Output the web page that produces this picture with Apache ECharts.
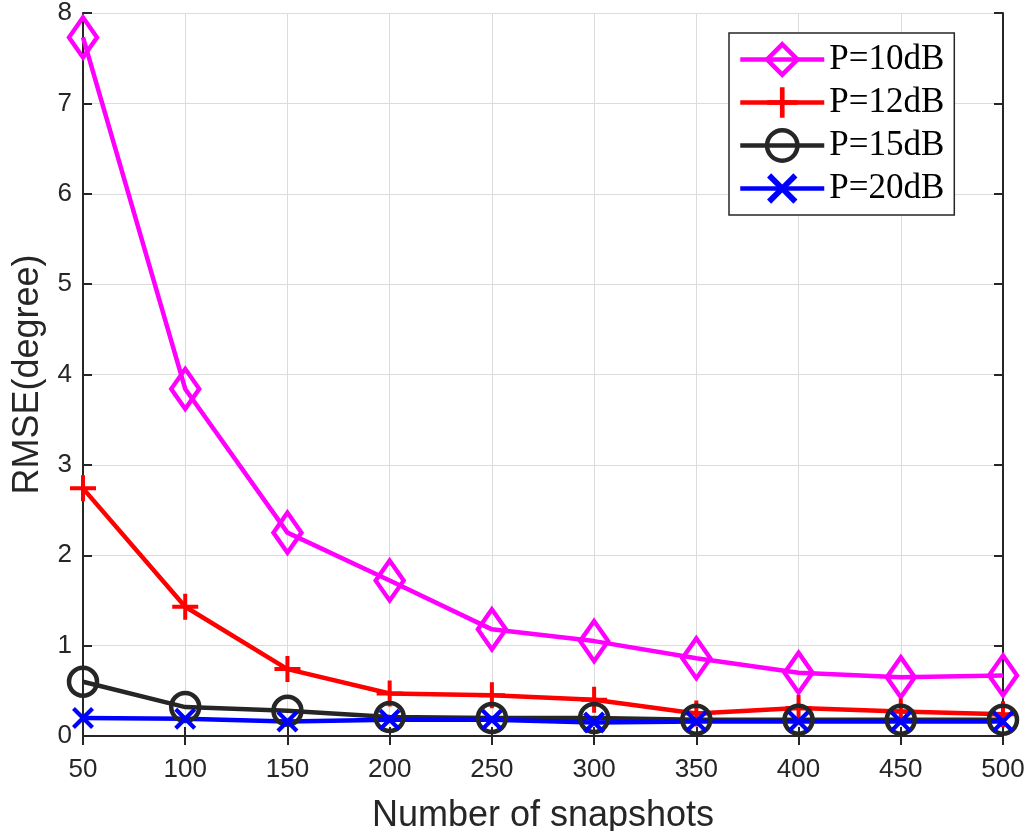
<!DOCTYPE html>
<html>
<head>
<meta charset="utf-8">
<script src="https://cdn.jsdelivr.net/npm/echarts@6/dist/echarts.min.js"></script>
<style>
  html, body { margin: 0; padding: 0; background: #fff; }
  #chart { width: 1026px; height: 831px; }
</style>
</head>
<body>
<div id="chart"></div>
<script>
// Number of snapshots
const snapshots = [50, 100, 150, 200, 250, 300, 350, 400, 450, 500];
// RMSE (degree) for each signal power
const rmseP10 = [7.73, 3.84, 2.25, 1.72, 1.18, 1.05, 0.86, 0.70, 0.65, 0.67];
const rmseP12 = [2.74, 1.43, 0.74, 0.47, 0.45, 0.40, 0.25, 0.31, 0.27, 0.24];
const rmseP15 = [0.60, 0.32, 0.28, 0.21, 0.20, 0.20, 0.18, 0.18, 0.18, 0.18];
const rmseP20 = [0.20, 0.19, 0.16, 0.18, 0.18, 0.15, 0.16, 0.16, 0.16, 0.16];
const seriesNames = ['P=10dB', 'P=12dB', 'P=15dB', 'P=20dB'];

const pairs = ys => snapshots.map((x, i) => [x, ys[i]]);

const axisColor = '#262626';
const sansFont = 'Liberation Sans, Arial, sans-serif';
const tickFont = { fontFamily: sansFont, fontSize: 26, color: axisColor };
const nameFont = { fontFamily: sansFont, fontSize: 36, color: axisColor };

const plusPath = 'path://M11,0 h4 v11 h11 v4 h-11 v11 h-4 v-11 h-11 v-4 h11 z';
const crossPath = 'path://M0,3.5 L3.5,0 L13,9.5 L22.5,0 L26,3.5 L16.5,13 L26,22.5 L22.5,26 L13,16.5 L3.5,26 L0,22.5 L9.5,13 Z';

function lineSeries(name, ys, color, symbol, size, hollow) {
  return {
    name: name,
    type: 'line',
    data: pairs(ys),
    symbol: symbol,
    symbolSize: size,
    showAllSymbol: true,
    color: color,
    lineStyle: { color: color, width: 4.5 },
    itemStyle: hollow
      ? { color: 'transparent', borderColor: color, borderWidth: 4.5 }
      : { color: color, borderWidth: 0 },
    emphasis: { disabled: true },
    animation: false
  };
}

const chart = echarts.init(document.getElementById('chart'), null, { renderer: 'canvas' });
chart.setOption({
  backgroundColor: '#ffffff',
  animation: false,
  grid: { left: 83, right: 23, top: 13, bottom: 95, containLabel: false, outerBoundsMode: 'none' },
  legend: {
    orient: 'vertical',
    left: 729,
    top: 33,
    padding: [9, 10, 9, 9],
    itemGap: 8,
    itemWidth: 84,
    itemHeight: 38,
    borderColor: axisColor,
    borderWidth: 1.5,
    backgroundColor: '#ffffff',
    lineStyle: { width: 4.5 },
    itemStyle: { borderWidth: 4.5 },
    textStyle: { fontFamily: 'Liberation Serif, Times New Roman, serif', fontSize: 35, color: '#000', padding: [0, 0, 0, 0] },
    data: seriesNames
  },
  xAxis: [
    {
      type: 'value', min: 50, max: 500, interval: 50,
      name: 'Number of snapshots', nameLocation: 'middle', nameGap: 62,
      nameTextStyle: nameFont,
      axisLine: { show: true, lineStyle: { color: axisColor, width: 2 } },
      axisTick: { show: true, inside: true, length: 9, lineStyle: { color: axisColor, width: 2 } },
      axisLabel: Object.assign({ margin: 21 }, tickFont),
      splitLine: { show: true, lineStyle: { color: '#dcdcdc', width: 1 } }
    },
    {
      type: 'value', min: 50, max: 500, interval: 50, position: 'top',
      axisLine: { show: true, lineStyle: { color: axisColor, width: 2 } },
      axisTick: { show: true, inside: true, length: 9, lineStyle: { color: axisColor, width: 2 } },
      axisLabel: { show: false },
      splitLine: { show: false }
    }
  ],
  yAxis: [
    {
      type: 'value', min: 0, max: 8, interval: 1,
      name: 'RMSE(degree)', nameLocation: 'middle', nameGap: 37,
      nameTextStyle: nameFont,
      axisLine: { show: true, lineStyle: { color: axisColor, width: 2 } },
      axisTick: { show: true, inside: true, length: 9, lineStyle: { color: axisColor, width: 2 } },
      axisLabel: Object.assign({ margin: 11 }, tickFont),
      splitLine: { show: true, lineStyle: { color: '#dcdcdc', width: 1 } }
    },
    {
      type: 'value', min: 0, max: 8, interval: 1, position: 'right',
      axisLine: { show: true, lineStyle: { color: axisColor, width: 2 } },
      axisTick: { show: true, inside: true, length: 9, lineStyle: { color: axisColor, width: 2 } },
      axisLabel: { show: false },
      splitLine: { show: false }
    }
  ],
  series: [
    lineSeries(seriesNames[0], rmseP10, '#ff00ff', 'diamond', [28, 40], true),
    lineSeries(seriesNames[1], rmseP12, '#ff0000', plusPath, 26, false),
    lineSeries(seriesNames[2], rmseP15, '#262626', 'circle', 28, true),
    lineSeries(seriesNames[3], rmseP20, '#0000ff', crossPath, 22, false)
  ]
});
</script>
</body>
</html>
